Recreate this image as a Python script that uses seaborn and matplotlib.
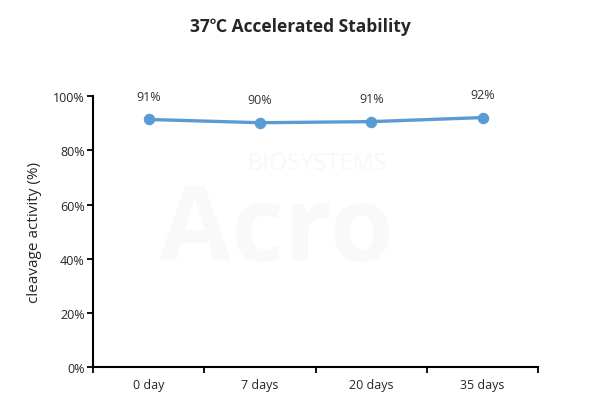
import matplotlib
matplotlib.use("Agg")
import matplotlib.pyplot as plt
import seaborn as sns
import pandas as pd
from matplotlib.ticker import FixedLocator, PercentFormatter

categories = ["0 day", "7 days", "20 days", "35 days"]
values = [91.4, 90.2, 90.6, 92.1]
labels = ["91%", "90%", "91%", "92%"]

sns.set_style("white")
plt.rcParams['font.family'] = ['Open Sans', 'DejaVu Sans']

df = pd.DataFrame({"day": categories, "activity": values})

fig = plt.figure(figsize=(6, 4.1), dpi=100)
ax = fig.add_axes([0.155, 0.1024, 0.742, 0.6606])

# faint watermark
fig.text(0.53, 0.6, "BIOSYSTEMS", ha="center", va="center", fontsize=17,
         color="#f8f8f8", zorder=0)
fig.text(0.46, 0.43, "Acro", ha="center", va="center", fontsize=75,
         color="#f9f9f9", zorder=0, fontweight="bold")
ax.patch.set_alpha(0)

sns.lineplot(data=df, x="day", y="activity", ax=ax, color="#5b9bd5",
             linewidth=2.4, marker="o", markersize=7.5,
             markeredgecolor="#5b9bd5", sort=False)

for i, (v, lab) in enumerate(zip(values, labels)):
    ax.annotate(lab, (i, v), xytext=(0, 12), textcoords="offset points",
                ha="center", va="bottom", fontsize=9, color="#333333")

ax.set_xlim(-0.5, 3.5)
ax.set_ylim(0, 100)
ax.yaxis.set_major_locator(FixedLocator([0, 20, 40, 60, 80, 100]))
ax.yaxis.set_major_formatter(PercentFormatter(decimals=0))
ax.xaxis.set_major_locator(FixedLocator([0, 1, 2, 3]))
ax.set_xticklabels(categories)
ax.xaxis.set_minor_locator(FixedLocator([-0.5, 0.5, 1.5, 2.5, 3.5]))
ax.tick_params(axis="x", which="both", bottom=True)
ax.tick_params(axis="y", which="both", left=True)
ax.tick_params(axis="x", which="major", length=0, pad=8, labelsize=9)
ax.tick_params(axis="x", which="minor", length=4, width=1.3, direction="out", color="black")
ax.tick_params(axis="y", which="major", length=4, width=1.3, direction="out",
               labelsize=9, color="black", pad=2)
for s in ["top", "right"]:
    ax.spines[s].set_visible(False)
for s in ["left", "bottom"]:
    ax.spines[s].set_color("black")
    ax.spines[s].set_linewidth(1.5)

ax.set_xlabel("")
ax.set_ylabel("cleavage activity (%)", fontsize=11, labelpad=8)
fig.text(0.5, 0.934, "37℃ Accelerated Stability", ha="center", va="center",
         fontsize=12.5, fontweight="bold", family=['Open Sans', 'Noto Sans CJK SC', 'DejaVu Sans'])

fig.savefig("out.png", dpi=100)
